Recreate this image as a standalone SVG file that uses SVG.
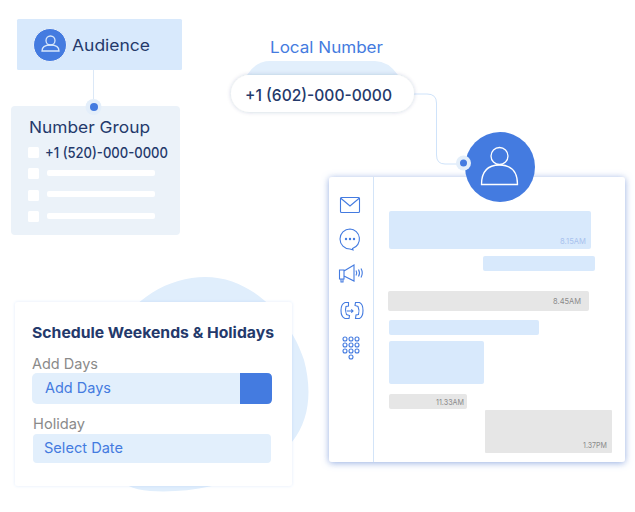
<svg xmlns="http://www.w3.org/2000/svg" width="635" height="512" viewBox="0 0 635 512">
<style>
text{font-family:"Inter","Open Sans","Liberation Sans",sans-serif}
.navy{fill:#24396b;font-weight:400}.blue{fill:#447be0}.grey{fill:#8a8a8a}
.chk{fill:#fff}
.ic{fill:none;stroke:#447be0;stroke-width:1.100}
.b{fill:#d8e9fc}.g{fill:#e6e6e6}
.t{font-size:8px;fill:#8a8a8a}
.user{fill:none;stroke:#fff}
</style>
<defs>
<filter id="sh" x="-10%" y="-10%" width="120%" height="120%"><feDropShadow dx="0" dy="1" stdDeviation="3.500" flood-color="#6f92d8" flood-opacity="0.75"/></filter>
<filter id="sh2" x="-10%" y="-20%" width="120%" height="140%"><feDropShadow dx="0" dy="0" stdDeviation="2" flood-color="#24396b" flood-opacity="0.22"/></filter>
<filter id="sh3" x="-10%" y="-10%" width="120%" height="120%"><feDropShadow dx="0" dy="0" stdDeviation="1.500" flood-color="#447be0" flood-opacity="0.16"/></filter>
</defs>
<rect width="635" height="512" fill="#fff"/>
<g id="connectors" fill="none" stroke="#cfe3fa" stroke-width="1">
<path d="M93.500 64V100" stroke="#dbe8f7"/>
<path d="M413 94H427Q436.500 94 436.500 103V155Q436.500 164 445 164H458"/>
</g>
<g id="audience">
<rect x="17" y="19" width="165" height="51" rx="1.500" fill="#d8e9fc"/>
<circle cx="50" cy="45" r="16.500" fill="#447be0" stroke="#e8f1fc"/>
<circle cx="50.500" cy="40.500" r="4.500" fill="none" stroke="#d8e8fb" stroke-width="1.300"/>
<path d="M42 51Q42 45 50.500 45T59 51H42Z" fill="none" stroke="#d8e8fb" stroke-width="1.300"/>
<text x="72" y="51" font-size="16" class="navy" textLength="78" lengthAdjust="spacingAndGlyphs">Audience</text>
</g>
<g id="number-group">
<rect x="11" y="106" width="169" height="129" rx="4" fill="#ebf2f9"/>
<circle cx="93.500" cy="107" r="8" fill="#e3eefa"/>
<circle cx="94" cy="107" r="4" fill="#447be0"/>
<text x="29" y="133" font-size="16.500" class="navy" textLength="121" lengthAdjust="spacingAndGlyphs">Number Group</text>
<rect class="chk" x="28" y="147" width="11" height="11" rx="1.500"/>
<text x="45" y="158" font-size="14.500" class="navy" style="font-weight:500" textLength="123" lengthAdjust="spacingAndGlyphs">+1 (520)-000-0000</text>
<rect class="chk" x="28" y="168" width="11" height="11" rx="1.500"/>
<rect class="chk" x="28" y="190" width="11" height="11" rx="1.500"/>
<rect class="chk" x="28" y="211" width="11" height="11" rx="1.500"/>
<rect class="chk" x="47" y="170" width="108" height="6" rx="2"/>
<rect class="chk" x="47" y="191" width="108" height="6" rx="2"/>
<rect class="chk" x="47" y="213" width="108" height="6" rx="2"/>
</g>
<g id="local-number">
<text x="270" y="53" font-size="15.500" class="blue" textLength="113" lengthAdjust="spacingAndGlyphs">Local Number</text>
<path d="M247 75Q256 61 270 61H375Q388 61 398 75Z" fill="#e2effc"/>
<rect x="231" y="75" width="183" height="37" rx="18.500" fill="#fff" filter="url(#sh2)"/>
<text x="245" y="101" font-size="16.500" class="navy" style="font-weight:500" textLength="147" lengthAdjust="spacingAndGlyphs">+1 (602)-000-0000</text>
</g>
<g id="chat-panel">
<rect x="329" y="177" width="296" height="285" rx="3" fill="#fff" filter="url(#sh)"/>
<path d="M373.500 177V462" stroke="#d3e4f8" fill="none"/>
<g class="ic">
<rect x="340.500" y="197.500" width="19" height="15" rx="1"/>
<path d="M340.500 198L350 206L359.500 198"/>
<path d="M350 229A10 10 0 1 0 350 249L353 250L352.500 248.500A10 10 0 0 0 350 229Z"/>
<path d="M339.500 270H344V279H339.500ZM344 271L354 265V281L344 276M341 279V282H343V279M356 270.500Q357.500 273 356 275.500M358.500 269.500Q360.500 273 358.500 276.500M361 268.500Q363.500 273 361 277.500"/>
<path d="M348.500 302.500H345Q341 304 341 310.500Q341 317 345 318.500H349L349.500 315.500L346.500 314.500Q344.500 310.500 346 306.500L348.500 306ZM355.500 318.500H359.500Q363 317 363 310.500Q363 304 359.500 302.500H355.500L355 305.500L358 306.500Q359.800 310.500 358.500 314.500L356 315Z" transform="translate(0 0)"/>
<path d="M346.500 311H353M351.300 309.300L353 311L351.300 312.700"/>
</g>
<g class="ic" stroke-width="1">
<circle cx="345" cy="339" r="2"/><circle cx="351" cy="339" r="2"/><circle cx="357" cy="339" r="2"/>
<circle cx="345" cy="345" r="2"/><circle cx="351" cy="345" r="2"/><circle cx="357" cy="345" r="2"/>
<circle cx="345" cy="351" r="2"/><circle cx="351" cy="351" r="2"/><circle cx="357" cy="351" r="2"/>
<circle cx="351" cy="357" r="2"/>
</g>
<g fill="#447be0"><circle cx="346" cy="239" r="1.200"/><circle cx="350" cy="239" r="1.200"/><circle cx="354" cy="239" r="1.200"/></g>
<rect class="b" x="389" y="211" width="202" height="38" rx="2"/>
<rect class="b" x="483" y="256" width="112" height="15" rx="2"/>
<rect class="g" x="388" y="291" width="201" height="20" rx="2"/>
<rect class="b" x="389" y="320" width="150" height="15" rx="2"/>
<rect class="b" x="389" y="341" width="95" height="43" rx="2"/>
<rect class="g" x="389" y="394" width="78" height="15" rx="2"/>
<rect class="g" x="485" y="410" width="127" height="43" rx="1"/>
<text x="560" y="244" class="t" style="fill:#a9c2ee" textLength="26" lengthAdjust="spacingAndGlyphs">8.15AM</text>
<text x="553" y="304" class="t" textLength="28" lengthAdjust="spacingAndGlyphs">8.45AM</text>
<text x="436" y="405" class="t" textLength="28" lengthAdjust="spacingAndGlyphs">11.33AM</text>
<text x="583" y="448" class="t" textLength="24" lengthAdjust="spacingAndGlyphs">1.37PM</text>
</g>
<g id="contact">
<circle cx="500" cy="167" r="35" fill="#447be0"/>
<circle cx="499.500" cy="156" r="8.500" class="user" stroke-width="1.300"/>
<path d="M481.500 184.500Q481.500 165 499.500 165T517.500 184.500Z" class="user" stroke-width="1.300"/>
<circle cx="463.500" cy="163" r="7.500" fill="#e3eefa"/>
<circle cx="463.500" cy="163" r="3.500" fill="#447be0"/>
</g>
<g id="schedule">
<path d="M112 340C130 298 170 277 205 277C255 277 292 322 304 360C312 390 310 420 292 442C260 480 200 494 150 491C115 488 108 470 106 440C104 410 100 370 112 340Z" fill="#e0eefc"/>
<rect x="15" y="302" width="277" height="184" rx="3" fill="#fff" filter="url(#sh3)"/>
<text x="32" y="338" font-size="15" class="navy" style="font-weight:700" textLength="242" lengthAdjust="spacingAndGlyphs">Schedule Weekends &amp; Holidays</text>
<text x="32" y="369" font-size="14.500" class="grey" textLength="66" lengthAdjust="spacingAndGlyphs">Add Days</text>
<rect x="32" y="373" width="240" height="31" rx="5" fill="#e2effc"/>
<path d="M240 373H267Q272 373 272 378V399Q272 404 267 404H240Z" fill="#447be0"/>
<text x="45" y="393" font-size="14.500" class="blue" textLength="66" lengthAdjust="spacingAndGlyphs">Add Days</text>
<text x="33" y="429" font-size="14.500" class="grey" textLength="52" lengthAdjust="spacingAndGlyphs">Holiday</text>
<rect x="33" y="434" width="238" height="29" rx="4" fill="#e2effc"/>
<text x="44" y="453" font-size="14.500" class="blue" textLength="79" lengthAdjust="spacingAndGlyphs">Select Date</text>
</g>
</svg>
